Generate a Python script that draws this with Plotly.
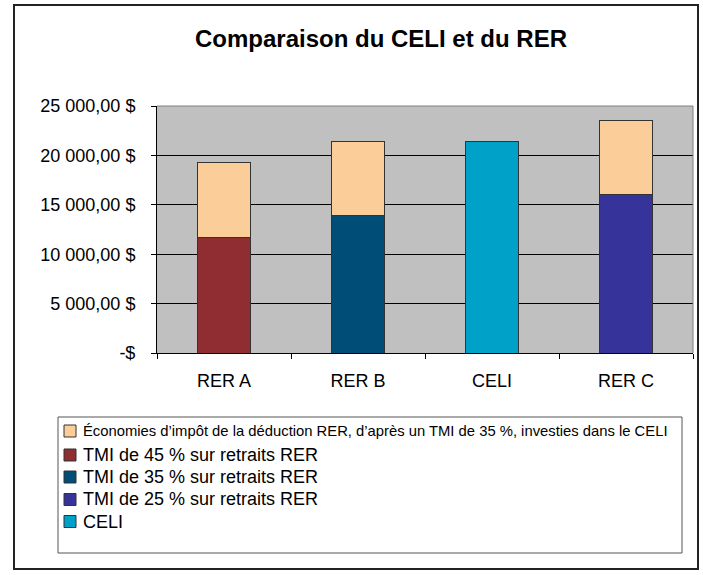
import plotly.graph_objects as go

# ---- data ----
categories = ["RER A", "RER B", "CELI", "RER C"]
tmi45 = [11730, None, None, None]
tmi35 = [None, 13880, None, None]
tmi25 = [None, None, None, 16070]
celi = [None, None, 21390, None]
economies = [7540, 7510, None, 7440]
y_tickvals = [0, 5000, 10000, 15000, 20000, 25000]
y_ticktext = ["-$", "5 000,00 $", "10 000,00 $", "15 000,00 $", "20 000,00 $", "25 000,00 $"]

legend_labels = [
    "Économies d’impôt de la déduction RER, d’après un TMI de 35 %, investies dans le CELI",
    "TMI de 45 % sur retraits RER",
    "TMI de 35 % sur retraits RER",
    "TMI de 25 % sur retraits RER",
    "CELI",
]
legend_colors = ["#FBCE99", "#8F2D32", "#004D78", "#36349A", "#00A1C9"]
legend_sizes = [14.8, 18, 18, 18, 18]

W, H = 703, 575
L, R, T, B = 157, 693, 106, 353  # plot area in pixels


def px_x(x):
    return (x - L) / (R - L)


def px_y(y):
    return (B - y) / (B - T)


FONT = "Arial, Liberation Sans, sans-serif"
OUT = dict(color="#333333", width=1)

fig = go.Figure()
series = [tmi45, tmi35, tmi25, celi, economies]
order = [1, 2, 3, 4, 0]  # index into legend lists for each stacked series
for vals, i in zip(series, order):
    fig.add_trace(go.Bar(x=categories, y=vals, name=legend_labels[i],
                         marker=dict(color=legend_colors[i], line=OUT), width=0.4,
                         showlegend=False))

fig.update_layout(
    width=W, height=H,
    margin=dict(l=L, r=W - R, t=T, b=H - B),
    barmode="stack",
    paper_bgcolor="white",
    plot_bgcolor="#C0C0C0",
    font=dict(family=FONT, size=18, color="black"),
    title=dict(text="<b>Comparaison du CELI et du RER</b>", font=dict(size=24, family=FONT),
               xref="container", yref="container", x=381 / W, xanchor="center",
               y=1 - 39 / H, yanchor="middle"),
    showlegend=False,
)

fig.update_xaxes(type="category", showline=True, linecolor="black", linewidth=1,
                 ticks="outside", tickson="boundaries", ticklen=5, tickcolor="black",
                 showgrid=False, ticklabelstandoff=11, range=[-0.5, 3.5])
fig.update_yaxes(range=[0, 25000], tickvals=y_tickvals, ticktext=y_ticktext,
                 showline=True, linecolor="black", linewidth=1, ticks="outside",
                 ticklen=5, tickcolor="black", showgrid=True, gridcolor="black",
                 gridwidth=1, zeroline=False, ticklabelstandoff=12)

# plot-area border (top & right, grey)
fig.add_shape(type="path", xref="paper", yref="paper",
              path="M 0 1 L 1 1 L 1 0", line=dict(color="#808080", width=1), layer="above")

# legend box
fig.add_shape(type="rect", xref="paper", yref="paper",
              x0=px_x(58), x1=px_x(682), y0=px_y(553), y1=px_y(417),
              line=dict(color="#555555", width=1), fillcolor="rgba(0,0,0,0)")
row_y = [431, 455, 477, 499.5, 521.5]
for lab, col, size, yy in zip(legend_labels, legend_colors, legend_sizes, row_y):
    fig.add_shape(type="rect", xref="paper", yref="paper",
                  x0=px_x(64), x1=px_x(76), y0=px_y(yy + 6), y1=px_y(yy - 6),
                  line=dict(color="#333333", width=1), fillcolor=col)
    fig.add_annotation(text=lab, xref="paper", yref="paper", x=px_x(81), y=px_y(yy),
                       xanchor="left", yanchor="middle", showarrow=False,
                       font=dict(size=size, family=FONT, color="black"))

# chart frame
fig.add_shape(type="rect", xref="paper", yref="paper",
              x0=px_x(14), x1=px_x(698), y0=px_y(569), y1=px_y(5),
              line=dict(color="#222222", width=2), fillcolor="rgba(0,0,0,0)")

fig.write_html("out.html", config={"displayModeBar": False},
               post_script="document.body.style.margin='0px';")
